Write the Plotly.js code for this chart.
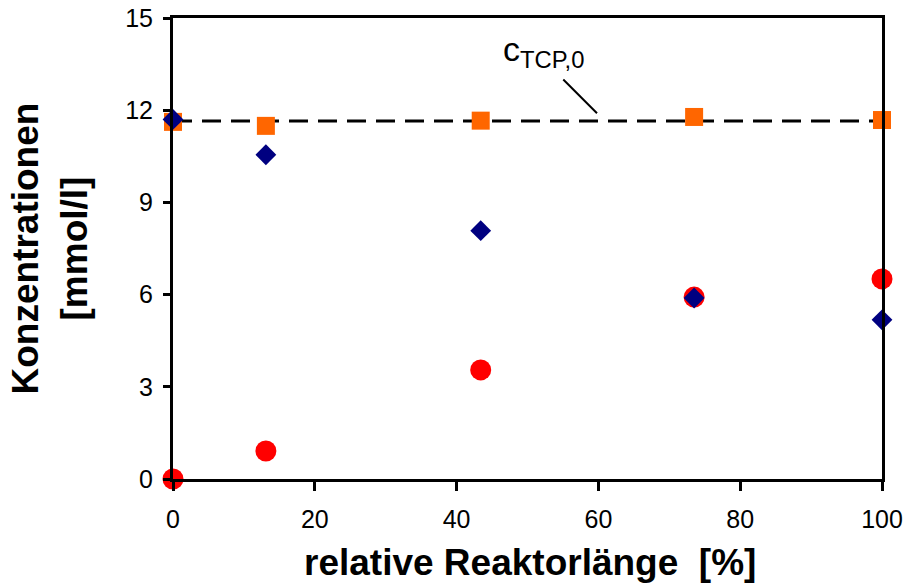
<!DOCTYPE html>
<html><head><meta charset="utf-8">
<script src="https://cdn.plot.ly/plotly-3.0.1.min.js"></script>
<style>body{margin:0;background:#fff}#c{width:906px;height:584px}</style>
</head><body><div id="c"></div>
<script>
var xPos = [0, 13.1, 43.4, 73.5, 100];
var tcp = [11.62, 11.49, 11.66, 11.78, 11.68];
var diamond = [11.70, 10.55, 8.08, 5.89, 5.18];
var circle = [0, 0.91, 3.55, 5.92, 6.51];
var c0 = 11.65;
var c0Label = "c<sub>TCP,0</sub>";
var xTicks = [0, 20, 40, 60, 80, 100];
var yTicks = [0, 3, 6, 9, 12, 15];
var xTitle = 'relative Reaktorlänge  [%]';
var yTitle = 'Konzentrationen<br>[mmol/l]';

var traces = [
  {x: [0, 100], y: [c0, c0], mode: 'lines', type: 'scatter', line: {color: '#000', width: 3, dash: '19px,10px'}, cliponaxis: false},
  {x: xPos, y: tcp, mode: 'markers', type: 'scatter', marker: {symbol: 'square', size: 18, color: '#FF6600', line: {width: 0}}, cliponaxis: false},
  {x: xPos, y: circle, mode: 'markers', type: 'scatter', marker: {symbol: 'circle', size: 21, color: '#FF0000', line: {width: 0}}, cliponaxis: false},
  {x: xPos, y: diamond, mode: 'markers', type: 'scatter', marker: {symbol: 'diamond', size: 16, color: '#000080', line: {width: 0}}, cliponaxis: false}
];

var layout = {
  width: 906, height: 584,
  margin: {l: 173, r: 24, t: 18, b: 105},
  paper_bgcolor: '#fff', plot_bgcolor: '#fff',
  showlegend: false,
  font: {family: 'Liberation Sans, Arial, sans-serif', color: '#000'},
  xaxis: {range: [0, 100], tickvals: xTicks, showgrid: false, zeroline: false,
    showline: true, mirror: true, linecolor: '#000', linewidth: 3,
    ticks: 'outside', ticklen: 9, tickwidth: 3, tickcolor: '#000', ticklabelstandoff: 7,
    tickfont: {size: 25}},
  yaxis: {range: [0, 15], tickvals: yTicks, showgrid: false, zeroline: false,
    showline: true, mirror: true, linecolor: '#000', linewidth: 3,
    ticks: 'outside', ticklen: 7, tickwidth: 3, tickcolor: '#000', ticklabelstandoff: 5,
    tickfont: {size: 25}},
  annotations: [
    {x: 52.3, y: 13.9, xref: 'x', yref: 'y', text: c0Label, showarrow: false,
      font: {size: 34}, xanchor: 'center', yanchor: 'middle'},
    {x: 60.9, y: c0, xref: 'x', yref: 'y', ax: -43, ay: -43, text: '', showarrow: true, arrowhead: 0,
      arrowwidth: 2, arrowcolor: '#000', standoff: 11},
    {x: 0.503, y: -0.1822, xref: 'paper', yref: 'paper', text: '<b>' + xTitle + '</b>', showarrow: false,
      font: {size: 37}, xanchor: 'center', yanchor: 'middle'},
    {x: -0.1735, y: 0.5, xref: 'paper', yref: 'paper', text: '<b>' + yTitle + '</b>', showarrow: false,
      textangle: -90, font: {size: 37}, xanchor: 'center', yanchor: 'middle'}
  ]
};
Plotly.newPlot('c', traces, layout, {displayModeBar: false, staticPlot: true});
</script>
</body></html>
